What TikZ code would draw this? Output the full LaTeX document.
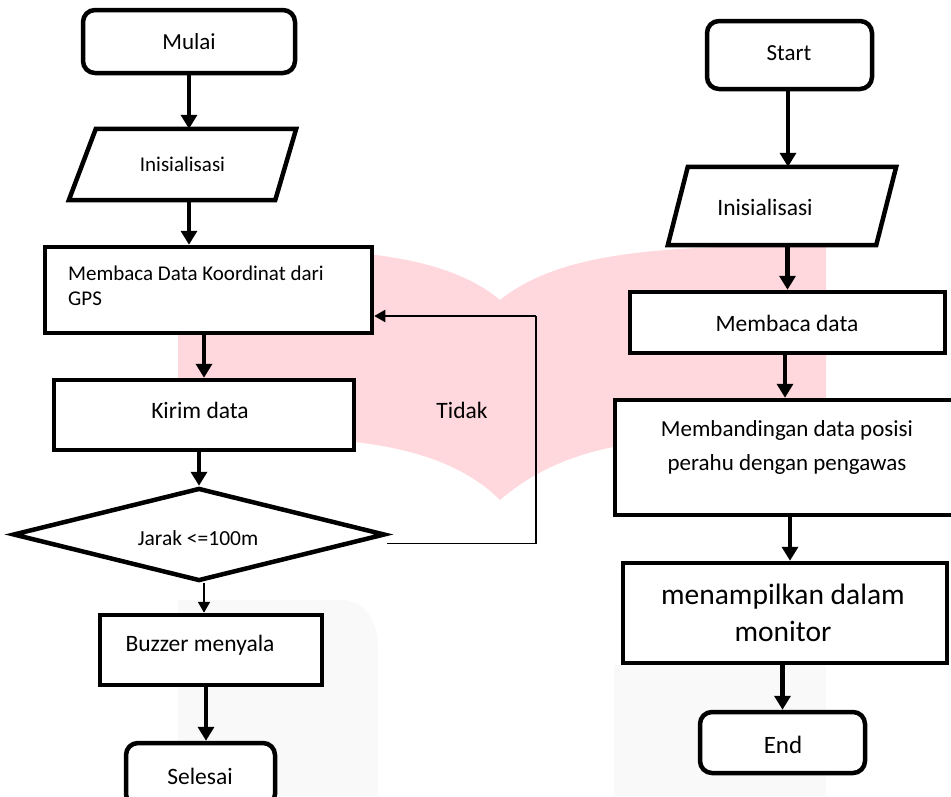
\documentclass[tikz,border=0pt]{standalone}
\usepackage{fontspec}
\setmainfont{Carlito}
\usetikzlibrary{shapes.geometric,arrows.meta,calc}
\definecolor{wmpink}{RGB}{255,216,221}
\definecolor{wmgray}{RGB}{249,249,249}
\begin{document}
\begin{tikzpicture}[x=1pt,y=-1pt,
  box/.style={draw, line width=4.5pt, rectangle, inner sep=0pt, fill=white},
  term/.style={box, rounded corners=12pt},
  ioframe/.style={rectangle, inner sep=0pt},
  ioline/.style={draw, line width=4.5pt, fill=white},
  dec/.style={draw, line width=4.5pt, diamond, inner sep=0pt, aspect=4, fill=white},
  txt/.style={inner sep=0pt, align=center},
  arr/.style={-{Triangle[length=14pt,width=16pt]}, line width=4.5pt},
  tarr/.style={-{Triangle[length=11pt,width=12pt]}, line width=2pt},
  tline/.style={line width=1.8pt}
]
\useasboundingbox (0,0) rectangle (951,796);
\clip (0,0) rectangle (951,796);
\fill[white] (0,0) rectangle (951,796);
% watermark
\fill[wmgray] (178,796) -- (178,600) -- (340,600) .. controls (365,600) and (378,620) .. (378,650) -- (378,796) -- cycle;
\fill[wmgray] (614,796) -- (614,665) -- (826,665) -- (826,796) -- cycle;
\fill[wmpink] (178,253) .. controls (330,245) and (440,250) .. (500,300)
  .. controls (560,252) and (660,245) .. (826,246) -- (826,440)
  .. controls (660,432) and (570,440) .. (500,500)
  .. controls (440,440) and (330,432) .. (178,440) -- cycle;

% left column
\node[term, minimum width=212pt, minimum height=63pt] (mulai) at (189,41.5) {};
\node[txt, font=\fontsize{23}{28}\selectfont] (tmulai) at (189,42) {Mulai};
\node[ioframe, minimum width=227pt, minimum height=71pt] (ini1) at (182.5,164.5) {};
\draw[ioline] ($(ini1.north west)+(27,0)$) -- (ini1.north east) -- ($(ini1.south east)+(-21,0)$) -- (ini1.south west) -- cycle;
\node[txt, font=\fontsize{21}{25}\selectfont] (tini1) at (182.5,164) {Inisialisasi};
\node[box, minimum width=327pt, minimum height=86pt] (mem1) at (208.5,290) {};
\node[txt, align=left, anchor=west, font=\fontsize{21}{25}\selectfont] (tmem1) at (68,285.5) {Membaca Data Koordinat dari\\GPS};
\node[box, minimum width=300pt, minimum height=70pt] (kirim) at (204,415) {};
\node[txt, font=\fontsize{23.5}{28}\selectfont] (tkirim) at (200,410) {Kirim data};
\node[dec, minimum width=372pt, minimum height=93pt] (dia) at (199,534.5) {};
\node[txt, font=\fontsize{21.5}{26}\selectfont] (tdia) at (198,538) {Jarak <=100m};
\node[box, minimum width=222pt, minimum height=70pt] (buzz) at (211,650) {};
\node[txt, font=\fontsize{23.5}{28}\selectfont] (tbuzz) at (200,645) {Buzzer menyala};
\node[term, minimum width=149pt, minimum height=63pt] (sel) at (200.5,774.5) {};
\node[txt, font=\fontsize{23.5}{28}\selectfont] (tsel) at (200,776) {Selesai};
\node[txt, font=\fontsize{23.5}{28}\selectfont] (tidak) at (462,410) {Tidak};
\coordinate (loop) at (536,316);

\draw[arr] (mulai.south) -- (mulai.south |- ini1.north);
\draw[arr] (ini1.south -| mulai.south) -- (mulai.south |- mem1.north);
\draw[arr] (kirim.north |- mem1.south) -- (kirim.north);
\draw[arr] (dia.north |- kirim.south) -- (dia.north);
\draw[tarr] ([xshift=5pt]dia.south) -- ([xshift=5pt]dia.south |- buzz.north);
\draw[arr] ([xshift=-5pt]buzz.south) -- ([xshift=-5pt]buzz.south |- sel.north);
\draw[tline] ($(dia.east)+(0,9)$) -| (loop);
\draw[tarr] (loop) -- (loop -| mem1.east);

% right column
\node[term, minimum width=165pt, minimum height=68pt] (start) at (789.5,55) {};
\node[txt, font=\fontsize{23}{28}\selectfont] (tstart) at (789,53) {Start};
\node[ioframe, minimum width=228pt, minimum height=78pt] (ini2) at (782,206) {};
\draw[ioline] ($(ini2.north west)+(20,0)$) -- (ini2.north east) -- ($(ini2.south east)+(-20,0)$) -- (ini2.south west) -- cycle;
\node[txt, font=\fontsize{23.5}{28}\selectfont] (tini2) at (765,207) {Inisialisasi};
\node[box, minimum width=315pt, minimum height=61pt] (mem2) at (787.5,322.5) {};
\node[txt, font=\fontsize{23.5}{28}\selectfont] (tmem2) at (787,323) {Membaca data};
\node[box, minimum width=350pt, minimum height=115pt] (band) at (790,457.5) {};
\node[txt, font=\fontsize{23}{34}\selectfont] (tband) at (787,447) {Membandingan data posisi\\perahu dengan pengawas};
\node[box, minimum width=324pt, minimum height=100pt] (tamp) at (785,613) {};
\node[txt, font=\fontsize{29.5}{37}\selectfont] (ttamp) at (783,613) {menampilkan dalam\\monitor};
\node[term, minimum width=165pt, minimum height=61pt] (end) at (782.5,742.5) {};
\node[txt, font=\fontsize{25}{30}\selectfont] (tend) at (783,745) {End};

\draw[arr] ([xshift=-1.5pt]start.south) -- ([xshift=-1.5pt]start.south |- ini2.north);
\draw[arr] (mem2.north |- ini2.south) -- (mem2.north);
\draw[arr] ([xshift=-2.5pt]mem2.south) -- ([xshift=-2.5pt]mem2.south |- band.north);
\draw[arr] ([xshift=5pt]tamp.north |- band.south) -- ([xshift=5pt]tamp.north);
\draw[arr] (end.north |- tamp.south) -- (end.north);
\end{tikzpicture}
\end{document}
